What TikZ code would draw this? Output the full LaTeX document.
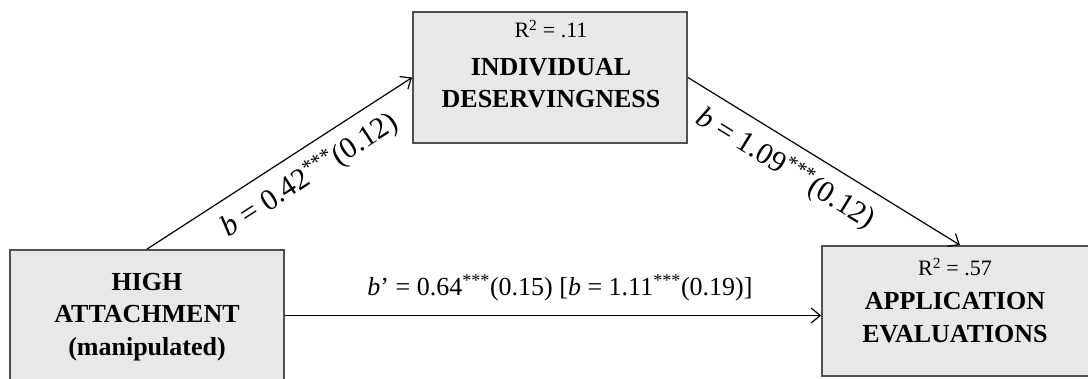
\documentclass[tikz,border=0pt]{standalone}
\usepackage{fontspec}
\setmainfont{Liberation Serif}
\usetikzlibrary{positioning,arrows.meta}
\definecolor{boxfill}{RGB}{232,232,232}
\definecolor{boxline}{RGB}{80,80,80}
\newcommand{\bb}{\textit{b}}
\newcommand{\sig}{\textsuperscript{***}}

\begin{document}
\begin{tikzpicture}[x=1pt,y=1pt,
  varbox/.style={draw=boxline,line width=1.8pt,fill=boxfill,minimum width=274pt,minimum height=131pt,inner sep=0pt},
  rsq/.style={anchor=base,inner sep=0pt,font=\fontsize{22}{26}\selectfont},
  vname/.style={anchor=base,inner sep=0pt,font=\fontsize{26}{32}\selectfont\bfseries},
  link/.style={line width=1.2pt,-{Straight Barb[length=9pt,width=15pt]}},
  coef/.style={font=\fontsize{30}{36}\selectfont},
  hcoef/.style={font=\fontsize{26}{32}\selectfont}]
\useasboundingbox (0,0) rectangle (1088,378);
\draw(550,300.5) node[varbox] (ind) {};
\draw(147,62.5) node[varbox] (att) {};
\draw(960,67) node[varbox,minimum width=276pt,minimum height=130pt] (app) {};
\draw(551,340) node[rsq] (indr) {R\textsuperscript{2} = .11};
\draw(551,302) node[vname] (ind1) {INDIVIDUAL};
\draw(551,270) node[vname] (ind2) {DESERVINGNESS};
\draw(147,88) node[vname] (att1) {HIGH};
\draw(147,56) node[vname] (att2) {ATTACHMENT};
\draw(147,23) node[vname] (att3) {(manipulated)};
\draw(955,102) node[rsq] (appr) {R\textsuperscript{2} = .57};
\draw(955,68) node[vname] (app1) {APPLICATION};
\draw(955,36) node[vname] (app2) {EVALUATIONS};
\draw[link] (att.north) -- node[coef,sloped,below=8pt,pos=0.56] (a) {\bb{} = 0.42\sig(0.12)} (ind.west);
\draw[link] (ind.east) -- node[coef,sloped,below=8pt,pos=0.41] (b) {\bb{} = 1.09\sig(0.12)} (app.north);
\draw[link] (att.east) -- node[hcoef,anchor=base,yshift=20pt,xshift=7pt] (c) {\bb’ = 0.64\sig(0.15) [\bb{} = 1.11\sig(0.19)]} (att.east -| app.west);
\end{tikzpicture}
\end{document}
